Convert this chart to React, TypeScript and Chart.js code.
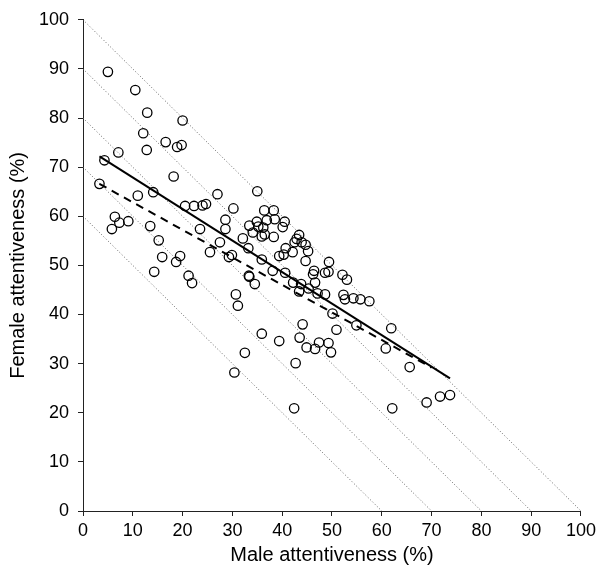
import React, { useEffect, useRef } from "react";
import { Chart, registerables } from "chart.js";

Chart.register(...registerables);

// Scatter data: male vs female attentiveness (%)
const maleAttentiveness = [
  5.0, 10.5, 12.9, 20.0, 12.1, 16.6, 12.8, 18.9, 19.8, 7.1,
  4.3, 18.2, 3.3, 11.0, 14.1, 27.0, 20.5, 22.3, 24.0, 24.7,
  30.2, 6.4, 7.3, 9.1, 5.8, 13.5, 15.2, 15.9, 19.5, 18.7,
  14.3, 21.2, 21.9, 23.5, 28.6, 28.6, 27.5, 25.5, 32.1, 29.9,
  29.3, 33.3, 30.7, 31.1, 32.5, 30.4, 35.0, 36.4, 38.3, 36.9,
  38.5, 34.9, 33.4, 36.2, 35.2, 40.1, 40.5, 34.1, 35.9, 36.5,
  38.3, 33.2, 43.4, 42.9, 42.5, 43.9, 44.7, 40.7, 42.1, 39.4,
  40.3, 45.2, 44.7, 46.4, 35.9, 38.1, 40.6, 49.4, 46.2, 48.6,
  49.3, 52.1, 53.0, 33.4, 34.5, 42.2, 43.8, 46.6, 43.4, 45.3,
  47.1, 48.6, 52.3, 52.6, 54.3, 55.7, 57.5, 50.1, 44.1, 50.9,
  54.9, 61.9, 60.8, 35.9, 39.4, 43.5, 44.9, 46.6, 47.4, 49.3,
  49.8, 42.7, 42.4, 62.1, 65.6, 69.0, 71.7, 73.7,
];
const femaleAttentiveness = [
  89.4, 85.7, 81.1, 79.5, 76.9, 75.1, 73.5, 74.1, 74.5, 73.0,
  71.4, 68.1, 66.6, 64.2, 64.9, 64.5, 62.1, 62.1, 62.2, 62.5,
  61.6, 59.9, 58.7, 59.0, 57.4, 58.0, 55.1, 51.7, 51.9, 50.7,
  48.7, 47.9, 46.4, 57.4, 59.3, 57.4, 54.7, 52.7, 55.5, 52.1,
  51.7, 47.9, 44.1, 41.8, 32.2, 28.2, 65.1, 61.2, 61.2, 59.2,
  59.4, 58.9, 58.1, 57.7, 57.9, 57.8, 58.9, 56.7, 55.9, 56.3,
  55.8, 53.5, 56.2, 55.4, 54.7, 54.7, 54.2, 53.5, 52.7, 51.9,
  52.2, 52.9, 50.9, 48.9, 51.2, 48.9, 48.5, 50.7, 48.2, 48.5,
  48.7, 48.1, 47.1, 47.7, 46.2, 46.5, 46.2, 46.5, 44.7, 45.3,
  44.3, 44.1, 44.0, 43.1, 43.3, 43.1, 42.7, 40.2, 38.0, 36.9,
  37.8, 37.2, 33.1, 36.1, 34.6, 35.3, 33.3, 33.0, 34.3, 34.2,
  32.3, 30.1, 20.9, 20.9, 29.3, 22.1, 23.3, 23.6,
];

// Regression lines (endpoints)
const solidLineX = [3.3, 73.7];
const solidLineY = [72.2, 27.0];
const dashedLineX = [3.3, 70.0];
const dashedLineY = [66.6, 29.2];

// Constant-sum reference lines (male + female = total)
const diagonalTotals = [100, 90, 80, 70, 60];

const axisTicks = [0, 10, 20, 30, 40, 50, 60, 70, 80, 90, 100];

const FONT = "'Liberation Sans', Arial, Helvetica, sans-serif";

export default function App() {
  const canvasRef = useRef<HTMLCanvasElement | null>(null);

  useEffect(() => {
    const canvas = canvasRef.current;
    if (!canvas) return;

    const scatterPoints = maleAttentiveness.map((x, i) => ({ x, y: femaleAttentiveness[i] }));
    const solidPoints = solidLineX.map((x, i) => ({ x, y: solidLineY[i] }));
    const dashedPoints = dashedLineX.map((x, i) => ({ x, y: dashedLineY[i] }));

    const diagDatasets = diagonalTotals.map((t) => ({
      type: "line" as const,
      data: [
        { x: 0, y: t },
        { x: t, y: 0 },
      ],
      borderColor: "#666",
      borderWidth: 1,
      borderDash: [1, 2.2],
      pointRadius: 0,
      fill: false,
      tension: 0,
    }));

    const chart = new Chart(canvas, {
      type: "scatter",
      data: {
        datasets: [
          {
            type: "scatter" as const,
            data: scatterPoints,
            pointStyle: "circle",
            pointRadius: 4.7,
            pointBorderWidth: 1.3,
            borderColor: "#000",
            backgroundColor: "rgba(255,255,255,0)",
          },
          {
            type: "line" as const,
            data: solidPoints,
            borderColor: "#000",
            borderWidth: 2,
            pointRadius: 0,
            fill: false,
          },
          {
            type: "line" as const,
            data: dashedPoints,
            borderColor: "#000",
            borderWidth: 2,
            borderDash: [8, 6],
            pointRadius: 0,
            fill: false,
          },
          ...diagDatasets,
        ] as any,
      },
      options: {
        responsive: false,
        animation: false,
        devicePixelRatio: 1,
        layout: { padding: { top: 11, right: 17, left: 0, bottom: 0 } },
        plugins: {
          legend: { display: false },
          tooltip: { enabled: false },
        },
        scales: {
          x: {
            type: "linear",
            min: 0,
            max: 100,
            afterBuildTicks: (s: any) => {
              s.ticks = axisTicks.map((v) => ({ value: v }));
            },
            afterFit: (s: any) => {
              s.height = 66;
            },
            ticks: {
              color: "#000",
              font: { family: FONT, size: 18 },
              padding: 4,
              maxRotation: 0,
              autoSkip: false,
            },
            grid: {
              display: true,
              drawOnChartArea: false,
              drawTicks: true,
              tickLength: 5,
              color: "#222",
            },
            border: { display: true, color: "#222", width: 1 },
            title: {
              display: true,
              text: "Male attentiveness (%)",
              color: "#000",
              font: { family: FONT, size: 20 },
              padding: { top: 0, bottom: 10 },
            },
          },
          y: {
            type: "linear",
            min: 0,
            max: 100,
            afterBuildTicks: (s: any) => {
              s.ticks = axisTicks.map((v) => ({ value: v }));
            },
            afterFit: (s: any) => {
              s.width = 83;
            },
            ticks: {
              color: "#000",
              font: { family: FONT, size: 18 },
              padding: 9,
              autoSkip: false,
            },
            grid: {
              display: true,
              drawOnChartArea: false,
              drawTicks: true,
              tickLength: 5,
              color: "#222",
            },
            border: { display: true, color: "#222", width: 1 },
            title: {
              display: true,
              text: "Female attentiveness (%)",
              color: "#000",
              font: { family: FONT, size: 20 },
              padding: { top: 6, bottom: 0 },
            },
          },
        },
      } as any,
    });

    return () => {
      chart.destroy();
    };
  }, []);

  return (
    <div style={{ position: "absolute", left: 0, top: 0, width: 600, height: 577, background: "#fff" }}>
      <canvas ref={canvasRef} width={600} height={577} style={{ width: 600, height: 577 }} />
    </div>
  );
}
